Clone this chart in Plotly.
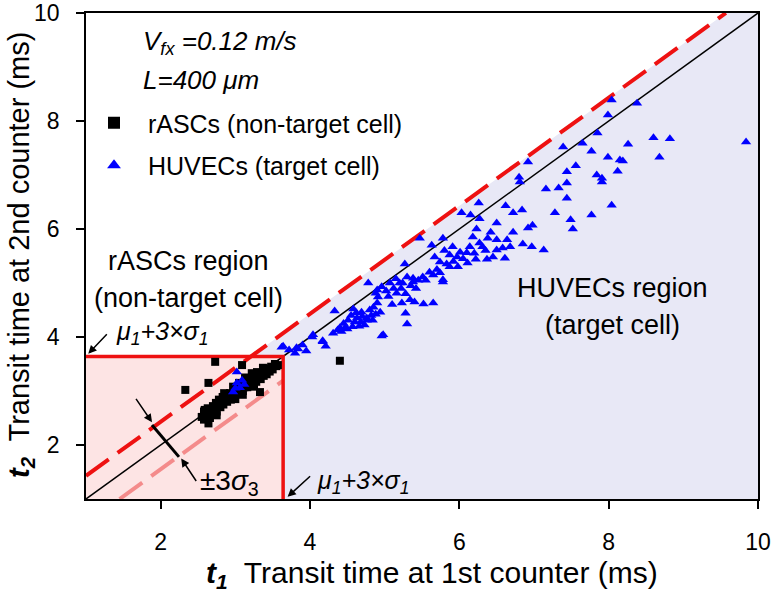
import plotly.graph_objects as go

# ---------------- data ----------------
rasc_x = [2.55, 2.58, 2.60, 2.62, 2.63, 2.65, 2.66, 2.68, 2.70, 2.70, 2.72, 2.74, 2.75, 2.77, 2.78,
          2.80, 2.81, 2.83, 2.84, 2.86, 2.88, 2.89, 2.91, 2.93, 2.94, 2.96, 2.98, 2.99, 3.01, 3.03,
          3.04, 3.06, 3.08, 3.10, 3.12, 3.14, 3.16, 3.18, 3.20, 3.22, 3.24, 3.26, 3.28, 3.30, 3.32,
          3.33, 3.34, 3.36, 3.38, 3.40, 3.42, 3.44, 3.46, 3.48, 3.50, 3.53, 3.55, 2.64, 2.75, 2.58,
          2.85, 2.97, 3.05, 3.13, 3.22, 3.29, 3.37, 3.00, 3.10, 3.25,
          2.33, 2.64, 2.73, 3.09, 3.57, 4.40, 2.59]
rasc_y = [2.52, 2.47, 2.60, 2.55, 2.68, 2.58, 2.50, 2.65, 2.72, 2.58, 2.66, 2.78, 2.62, 2.72, 2.84,
          2.70, 2.78, 2.89, 2.75, 2.82, 2.93, 2.80, 2.88, 2.96, 2.84, 2.92, 3.02, 2.90, 2.97, 3.08,
          2.95, 3.02, 3.12, 3.00, 3.07, 3.16, 3.07, 3.12, 3.22, 3.12, 3.18, 3.27, 3.17, 3.24, 3.31,
          2.98, 3.22, 3.33, 3.28, 3.38, 3.31, 3.42, 3.36, 3.45, 3.40, 3.50, 3.46, 2.40, 2.55, 2.62,
          2.96, 3.08, 3.15, 3.25, 3.33, 3.35, 3.43, 2.85, 2.93, 3.08,
          3.02, 3.15, 3.54, 3.48, 3.48, 3.56, 2.65]

huvec_x = [3.02, 3.02, 3.06, 2.97, 3.09, 3.12, 3.00,
           3.62, 3.84, 3.95, 3.80, 3.64, 3.82, 4.03, 4.04, 4.17, 4.21, 4.17, 3.72, 3.90,
           4.31, 4.40, 4.33, 4.37, 4.47, 4.51, 4.57, 4.63, 4.69, 4.73, 4.76, 4.80, 4.84, 4.76, 4.78,
           4.88, 4.90, 4.91, 4.94, 4.96, 4.98, 4.96, 4.90, 4.45, 4.55, 4.60, 4.66, 4.70, 4.42, 4.50,
           4.85, 4.62, 4.58, 4.82, 4.88, 4.68,
           5.07, 5.16, 5.20, 5.23, 5.27, 5.28, 5.30, 5.34, 5.38, 5.40, 5.24, 5.30, 5.38, 5.47, 5.51,
           5.52, 5.12, 5.05, 5.15, 5.22, 5.35, 5.42, 5.10, 5.45, 5.02, 5.28,
           5.63, 5.65, 5.65, 5.67, 5.74, 5.74, 5.78, 5.78, 5.78, 5.87, 5.87, 5.91, 5.97, 5.98, 6.01,
           5.70, 5.83, 5.60, 5.55, 5.92, 5.80,
           6.03, 6.10, 6.11, 6.14, 6.15, 6.22, 6.23, 6.26, 6.27, 6.27, 6.31, 6.37, 6.38, 6.42, 6.45,
           6.50, 6.50, 6.50, 6.20, 6.05, 6.35, 6.18,
           6.58, 6.61, 6.62, 6.64, 6.68, 6.72, 6.72, 6.80, 6.81, 6.84, 6.85, 6.92, 6.92, 6.97, 6.98,
           7.13, 7.16, 7.28, 7.33, 7.39, 7.44, 7.44, 7.44, 7.49, 7.52, 7.56, 7.65,
           7.77, 7.77, 7.84, 7.85, 7.91, 7.91, 7.99, 7.99, 8.04, 8.04, 8.12, 8.15, 8.19, 8.26, 8.38,
           8.60, 8.68, 8.82, 9.84]
huvec_y = [3.35, 3.15, 3.06, 2.98, 3.20, 3.12, 3.05,
           3.81, 3.78, 3.74, 3.70, 3.83, 3.80, 4.00, 4.04, 3.91, 3.83, 3.93, 3.76, 3.85,
           4.07, 4.17, 4.48, 4.13, 4.17, 4.31, 4.19, 4.35, 4.46, 4.22, 4.35, 4.50, 4.31, 4.31, 5.00,
           4.81, 4.63, 4.74, 4.46, 4.02, 4.04, 4.93, 4.87, 4.25, 4.40, 4.28, 4.20, 4.38, 4.10, 4.15,
           4.55, 4.45, 4.52, 4.40, 4.42, 4.28,
           5.00, 4.81, 5.00, 4.63, 5.35, 4.44, 4.24, 4.69, 5.02, 4.65, 5.00, 5.11, 5.09, 5.83, 5.11,
           4.61, 4.90, 4.75, 5.08, 4.90, 4.95, 4.90, 4.60, 5.05, 4.85, 4.80,
           5.70, 5.15, 4.63, 5.48, 5.39, 5.19, 5.06, 5.83, 5.02, 5.52, 5.30, 5.67, 5.48, 5.30, 5.57,
           5.25, 5.35, 5.20, 5.05, 5.40, 5.60,
           6.30, 5.56, 5.37, 5.67, 6.26, 5.44, 6.00, 6.48, 6.19, 5.74, 5.67, 5.44, 5.83, 5.94, 5.48,
           6.11, 5.80, 5.61, 5.55, 5.45, 5.60, 5.85,
           5.65, 5.46, 6.43, 5.80, 5.67, 6.30, 5.94, 6.96, 6.87, 6.35, 5.72, 6.02, 7.24, 5.67, 6.07,
           5.61, 6.74, 6.30, 6.76, 7.52, 7.06, 6.85, 6.57, 6.17, 6.00, 7.17, 7.59,
           7.44, 6.26, 7.00, 7.78, 6.94, 6.87, 8.11, 7.33, 8.39, 6.44, 7.07, 7.28, 7.26, 7.57, 8.33,
           7.69, 7.33, 7.67, 7.61]

axis_min, axis_max = 1, 10
threshold = 3.64          # mu1 + 3*sigma1
band_upper = 0.43         # +3 sigma3 offset
band_lower = -0.45        # -3 sigma3 offset
sigma_bar_x = [1.884, 2.245]
sigma_bar_y = [2.37, 1.78]
tick_vals = [2, 4, 6, 8, 10]

FONT = "Arial, 'Liberation Sans', sans-serif"

# derived geometry
up_x0 = axis_min
up_y0 = axis_min + band_upper
up_x1 = axis_max - band_upper
up_y1 = axis_max
lo_x0 = axis_min - band_lower
lo_y0 = axis_min
lo_x1 = threshold
lo_y1 = threshold + band_lower
cross_x = threshold - band_upper

fig = go.Figure()

# lavender HUVEC region
fig.add_trace(go.Scatter(
    x=[threshold, axis_max, axis_max, up_x1, cross_x, threshold, threshold],
    y=[axis_min, axis_min, axis_max, up_y1, threshold, threshold, axis_min],
    mode="lines", fill="toself", fillcolor="#E8E8F6", line=dict(width=0),
    showlegend=False, hoverinfo="skip"))
# pink rASC region
fig.add_trace(go.Scatter(
    x=[axis_min, threshold, threshold, axis_min, axis_min],
    y=[axis_min, axis_min, threshold, threshold, axis_min],
    mode="lines", fill="toself", fillcolor="#FDE4E4", line=dict(width=0),
    showlegend=False, hoverinfo="skip"))
# diagonal y = x
fig.add_trace(go.Scatter(x=[axis_min, axis_max], y=[axis_min, axis_max], mode="lines",
                         line=dict(color="black", width=1.5), showlegend=False, hoverinfo="skip"))
# lower band (light)
fig.add_trace(go.Scatter(x=[lo_x0, lo_x1], y=[lo_y0, lo_y1], mode="lines",
                         line=dict(color="rgba(240,110,110,0.75)", width=4, dash="28px,11px"),
                         showlegend=False, hoverinfo="skip"))
# upper band
fig.add_trace(go.Scatter(x=[up_x0, up_x1], y=[up_y0, up_y1], mode="lines",
                         line=dict(color="#EE1111", width=4, dash="28px,11px"),
                         showlegend=False, hoverinfo="skip"))
# red box edges
fig.add_trace(go.Scatter(x=[axis_min, threshold, threshold], y=[threshold, threshold, axis_min],
                         mode="lines", line=dict(color="#EE1111", width=3.5),
                         showlegend=False, hoverinfo="skip"))
# sigma bar
fig.add_trace(go.Scatter(x=sigma_bar_x, y=sigma_bar_y, mode="lines",
                         line=dict(color="black", width=3), showlegend=False, hoverinfo="skip"))

# data
fig.add_trace(go.Scatter(x=rasc_x, y=rasc_y, mode="markers",
                         name="\u00a0\u00a0rASCs (non-target cell)", legendgroup="a",
                         marker=dict(symbol="square", size=8, color="black")))
fig.add_trace(go.Scatter(x=huvec_x, y=huvec_y, mode="markers",
                         name="\u00a0\u00a0HUVECs (target cell)", legendgroup="b",
                         marker=dict(symbol="triangle-up", size=9, color="#0000FF")))

W, H = 777, 595
ML, MR, MT, MB = 86, 19, 13, 96

ann = []
def txt(x, y, text, size=26, italic=False, xanchor="left"):
    if italic:
        text = "<i>" + text + "</i>"
    ann.append(dict(x=x, y=y, xref="paper", yref="paper", text=text, showarrow=False,
                    xanchor=xanchor, yanchor="middle", font=dict(family=FONT, size=size, color="black")))

def px2paper(px, py):
    return (px - 86) / 672.0, (499 - py) / 486.0

x_, y_ = px2paper(141, 42); txt(x_, y_, "V<sub>fx</sub> =0.12 m/s", italic=True)
x_, y_ = px2paper(141, 80); txt(x_, y_, "L=400 μm", italic=True)
x_, y_ = px2paper(188, 261); txt(x_, y_, "rASCs region", size=27, xanchor="center")
x_, y_ = px2paper(188, 298); txt(x_, y_, "(non-target cell)", size=27, xanchor="center")
x_, y_ = px2paper(612, 288); txt(x_, y_, "HUVECs region", size=27, xanchor="center")
x_, y_ = px2paper(612, 325); txt(x_, y_, "(target cell)", size=27, xanchor="center")
x_, y_ = px2paper(114, 333); txt(x_, y_, "μ<sub>1</sub>+3×σ<sub>1</sub>", size=25, italic=True)
x_, y_ = px2paper(315, 482); txt(x_, y_, "μ<sub>1</sub>+3×σ<sub>1</sub>", size=25, italic=True)
x_, y_ = px2paper(198, 482); txt(x_, y_, "±3<i>σ</i><sub>3</sub>", size=28)

# axis titles
x_, y_ = px2paper(432, 574)
ann.append(dict(x=x_, y=y_, xref="paper", yref="paper", showarrow=False, xanchor="center", yanchor="middle",
                text="<b><i>t</i></b><sub><b><i>1</i></b></sub>  Transit time at 1st counter (ms)",
                font=dict(family=FONT, size=30, color="black")))
x_, y_ = px2paper(21, 255)
ann.append(dict(x=x_, y=y_, xref="paper", yref="paper", showarrow=False, xanchor="center", yanchor="middle",
                textangle=-90,
                text="<b><i>t</i></b><sub><b><i>2</i></b></sub>  Transit time at 2nd counter (ms)",
                font=dict(family=FONT, size=29, color="black")))

# arrows (tips in data coords)
def arrow(x, y, ax, ay):
    ann.append(dict(x=x, y=y, xref="x", yref="y", ax=ax, ay=ay, axref="pixel", ayref="pixel",
                    text="", showarrow=True, arrowhead=2, arrowsize=1.1, arrowwidth=1.5,
                    arrowcolor="black"))

arrow(axis_min + 0.03, threshold + 0.05, 20, -21)
arrow(threshold + 0.06, axis_min + 0.04, 24, -22)
arrow(sigma_bar_x[0], sigma_bar_y[0] + 0.05, -17, -25)
arrow(sigma_bar_x[1] + 0.03, sigma_bar_y[1] - 0.03, 16, 24)

axis_common = dict(range=[axis_min, axis_max], showgrid=False, zeroline=False, showline=True,
                   linecolor="black", linewidth=1.5, mirror=True, ticks="outside", ticklen=8,
                   tickwidth=1.5, tickcolor="black", tickvals=tick_vals, automargin=False,
                   ticklabeloverflow="allow",
                   tickfont=dict(family=FONT, size=23, color="black"))

fig.update_layout(
    width=W, height=H,
    margin=dict(l=ML, r=MR, t=MT, b=MB, autoexpand=False),
    paper_bgcolor="white", plot_bgcolor="white",
    xaxis=dict(**axis_common, ticklabelstandoff=14),
    yaxis=dict(**axis_common, ticklabelstandoff=12),
    annotations=ann,
    showlegend=True,
    hovermode=False,
    legend=dict(x=px2paper(94, 0)[0], y=px2paper(0, 100)[1], xanchor="left", yanchor="top",
                bgcolor="rgba(0,0,0,0)", font=dict(family=FONT, size=25, color="black"),
                tracegroupgap=7, itemsizing="constant"),
)

# remove the browser's default 8px body margin so the 777x595 figure fills the window
fig.write_html("out.html", config={"displayModeBar": False},
               post_script="document.body.style.margin='0';document.body.style.overflow='hidden';")
